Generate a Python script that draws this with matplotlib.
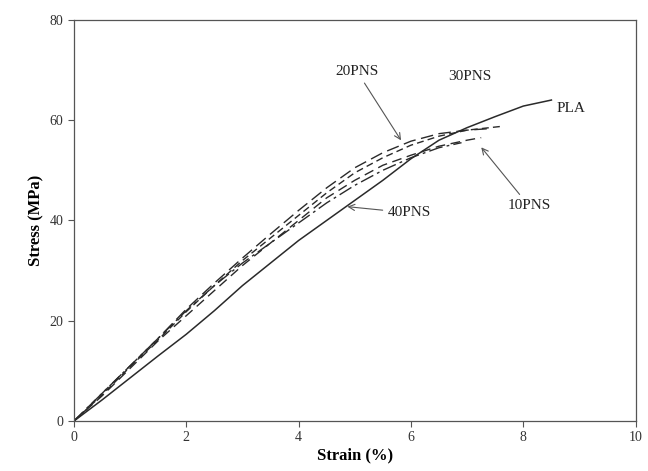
import numpy as np
import matplotlib.pyplot as plt

plt.rcParams['font.family'] = ['Liberation Serif', 'DejaVu Serif']

# stress-strain curves
pla_strain = [0, 0.5, 1, 1.5, 2, 2.5, 3, 3.5, 4, 4.5, 5, 5.5, 6, 6.5, 7, 7.5, 8, 8.5]
pla_stress = [0, 4.2, 8.6, 13, 17.3, 22, 27, 31.5, 36, 40, 44, 48, 52.3, 56, 58.5, 60.7, 62.8, 64]

pns10_strain = [0, 0.5, 1, 1.5, 2, 2.5, 3, 3.5, 4, 4.5, 5, 5.5, 6, 6.5, 7, 7.25]
pns10_stress = [0, 5, 10.5, 16, 21, 26, 31, 35.5, 40, 44.5, 48, 51, 53, 54.8, 56, 56.5]

pns20_strain = [0, 0.5, 1, 1.5, 2, 2.5, 3, 3.5, 4, 4.5, 5, 5.5, 6, 6.5, 7, 7.4]
pns20_stress = [0, 5.5, 11, 16.5, 22.3, 27.5, 32.5, 37.3, 42, 46.5, 50.5, 53.5, 55.8, 57.3, 58, 58.3]

pns30_strain = [0, 0.5, 1, 1.5, 2, 2.5, 3, 3.5, 4, 4.5, 5, 5.5, 6, 6.5, 7, 7.65]
pns30_stress = [0, 5.2, 10.8, 16.2, 21.8, 27, 32, 36.5, 41, 45.5, 49.5, 52.5, 55, 56.8, 58, 58.8]

pns40_strain = [0, 0.5, 1, 1.5, 2, 2.5, 3, 3.5, 4, 4.5, 5, 5.5, 6, 6.5, 6.9]
pns40_stress = [0, 5.5, 11, 16.5, 22, 27, 31.5, 35.5, 39.5, 43.5, 47, 50, 52.5, 54.5, 55.5]

fig = plt.figure(figsize=(6.48, 4.71), dpi=100)
ax = fig.add_axes([0.114, 0.106, 0.867, 0.852])

c = '#2a2a2a'
ax.plot(pla_strain, pla_stress, color=c, lw=1.1)
ax.plot(pns10_strain, pns10_stress, color=c, lw=1.0, dashes=(7, 4))
ax.plot(pns20_strain, pns20_stress, color=c, lw=1.0, dashes=(9, 4))
ax.plot(pns30_strain, pns30_stress, color=c, lw=1.0, dashes=(5, 3))
ax.plot(pns40_strain, pns40_stress, color=c, lw=1.0, dashes=(10, 3, 2, 3))

ax.set_xlim(0, 10)
ax.set_ylim(0, 80)
ax.set_xticks([0, 2, 4, 6, 8, 10])
ax.set_yticks([0, 20, 40, 60, 80])
ax.tick_params(labelsize=10, length=4, width=0.8, color='#555555', labelcolor='#333333')
for s in ax.spines.values():
    s.set_color('#555555')
    s.set_linewidth(0.9)

ax.set_xlabel('Strain (%)', fontsize=12, fontweight='bold', labelpad=2)
ax.set_ylabel('Stress (MPa)', fontsize=12, fontweight='bold', labelpad=4)

arr = dict(arrowstyle='->', color='#555555', lw=0.8)
tc = '#222222'
ax.annotate('20PNS', xy=(5.85, 55.5), xytext=(5.04, 69.7), color=tc,
            fontsize=11, ha='center', va='center', arrowprops=arr)
ax.text(7.05, 68.7, '30PNS', fontsize=11, ha='center', va='center', color=tc)
ax.text(8.85, 62.4, 'PLA', fontsize=11, ha='center', va='center', color=tc)
ax.annotate('40PNS', xy=(4.82, 42.8), xytext=(5.98, 41.5), color=tc,
            fontsize=11, ha='center', va='center', arrowprops=arr)
ax.annotate('10PNS', xy=(7.22, 55.0), xytext=(8.1, 42.9), color=tc,
            fontsize=11, ha='center', va='center', arrowprops=arr)

fig.savefig('out.png', dpi=100)
